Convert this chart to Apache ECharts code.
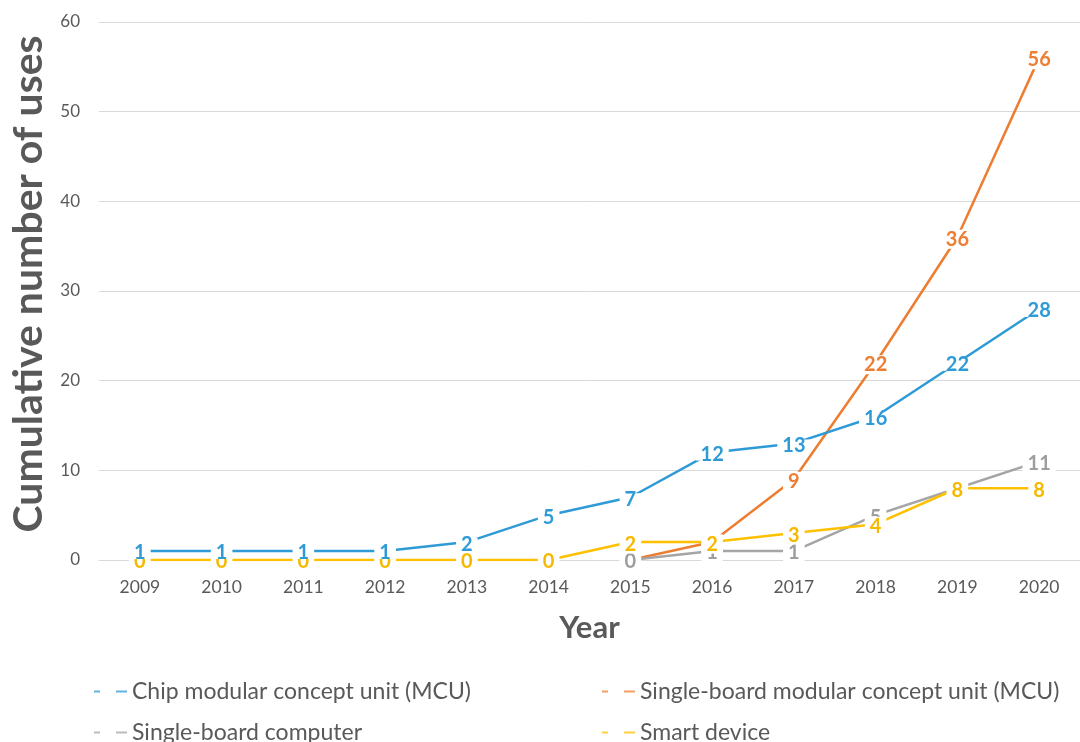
<!DOCTYPE html>
<html>
<head>
<meta charset="utf-8">
<script src="https://cdn.jsdelivr.net/npm/echarts@6/dist/echarts.min.js"></script>
<style>
  html, body { margin: 0; padding: 0; background: #fff; }
  #chart { width: 1080px; height: 742px; }
</style>
</head>
<body>
<div id="chart"></div>
<script>
// Years on the horizontal axis
const years = ['2009', '2010', '2011', '2012', '2013', '2014', '2015', '2016', '2017', '2018', '2019', '2020'];

// Cumulative counts per architecture ('-' = not yet in use)
const chipMcu        = [1, 1, 1, 1, 2, 5, 7, 12, 13, 16, 22, 28];
const singleBoardMcu = ['-', '-', '-', '-', '-', '-', 0, 2, 9, 22, 36, 56];
const singleBoardPc  = ['-', '-', '-', '-', '-', '-', 0, 1, 1, 5, 8, 11];
const smartDevice    = [0, 0, 0, 0, 0, 0, 2, 2, 3, 4, 8, 8];

const seriesNames = [
  'Chip modular concept unit (MCU)',
  'Single-board modular concept unit (MCU)',
  'Single-board computer',
  'Smart device'
];
const colors = ['#2E9AD6', '#ED7D31', '#A5A5A5', '#FFC000'];
const labelColors = ['#2E9AD6', '#ED7D31', '#9E9E9E', '#F5BA00'];
const seriesData = [chipMcu, singleBoardMcu, singleBoardPc, smartDevice];
// drawing order: the chip MCU line and its labels sit on top
const seriesZ = [9, 3, 4, 5];

const FONT = 'Lato, "Open Sans", sans-serif';

function makeSeries(i) {
  return {
    name: seriesNames[i],
    type: 'line',
    data: seriesData[i],
    symbol: 'circle',
    symbolSize: 2,
    itemStyle: { color: colors[i] },
    lineStyle: { color: colors[i], width: 2.5 },
    emphasis: { disabled: true },
    z: seriesZ[i],
    label: {
      show: true,
      position: 'inside',
      offset: [0, 2],
      color: labelColors[i],
      fontFamily: FONT,
      fontWeight: 'bold',
      fontSize: 20,
      backgroundColor: '#fff',
      padding: [0, 5],
      lineHeight: i === 0 ? 12 : 19
    }
  };
}

// "- -" legend glyph: short dash, gap, longer dash
const dashIcon = 'path://M0,0h6v2h-6z M22,0h11v2h-11z';

function makeLegend(i, left, top) {
  return {
    data: [seriesNames[i]],
    left: left,
    top: top,
    icon: dashIcon,
    itemWidth: 33,
    itemHeight: 2,
    itemGap: 6,
    itemStyle: { opacity: 0.75 },
    textStyle: { color: '#595959', fontFamily: FONT, fontSize: 23 },
    selectedMode: false
  };
}

const chart = echarts.init(document.getElementById('chart'), null, { renderer: 'canvas' });
chart.setOption({
  animation: false,
  backgroundColor: '#fff',
  grid: { left: 99, top: 22, width: 989, height: 538, containLabel: false },
  xAxis: {
    type: 'category',
    data: years,
    boundaryGap: true,
    axisLine: { show: true, lineStyle: { color: '#D9D9D9', width: 1 } },
    axisTick: { show: false },
    axisLabel: { color: '#595959', fontFamily: FONT, fontSize: 17.5, margin: 18 },
    name: 'Year',
    nameLocation: 'middle',
    nameGap: 52,
    nameTextStyle: { color: '#595959', fontFamily: FONT, fontWeight: 'bold', fontSize: 31 }
  },
  yAxis: {
    type: 'value',
    min: 0,
    max: 60,
    interval: 10,
    axisLine: { show: false },
    axisTick: { show: false },
    splitLine: { lineStyle: { color: '#D9D9D9', width: 1 } },
    axisLabel: { color: '#595959', fontFamily: FONT, fontSize: 17, margin: 19 },
    name: 'Cumulative number of uses',
    nameLocation: 'middle',
    nameGap: 50,
    nameTextStyle: {
      color: '#595959', fontFamily: FONT, fontWeight: 'bold', fontSize: 41,
      padding: [0, 0, 0, 14]
    }
  },
  legend: [
    makeLegend(0, 89, 675),
    makeLegend(1, 597, 675),
    makeLegend(2, 89, 716),
    makeLegend(3, 597, 716)
  ],
  series: [0, 1, 2, 3].map(makeSeries)
});
</script>
</body>
</html>
